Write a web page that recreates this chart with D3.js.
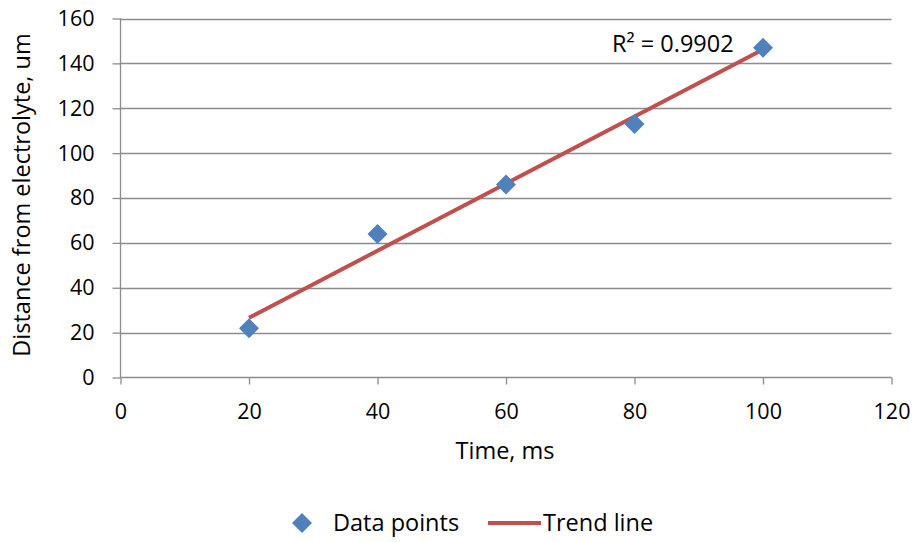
<!DOCTYPE html>
<html><head><meta charset="utf-8">
<script src="https://cdn.jsdelivr.net/npm/d3@7"></script>
<style>body{margin:0;background:#fff}svg{display:block}text{font-family:"Open Sans",sans-serif;fill:#000}</style>
</head><body><svg id="c" width="917" height="542"></svg>
<script>
const timeMs = [20, 40, 60, 80, 100];
const distanceUm = [22, 64, 86, 113, 147];
const xTicks = [0, 20, 40, 60, 80, 100, 120];
const yTicks = [0, 20, 40, 60, 80, 100, 120, 140, 160];
const rSquaredLabel = "R² = 0.9902";

const svg = d3.select("#c");
const x = d3.scaleLinear().domain([0, 120]).range([120.5, 891.5]);
const y = d3.scaleLinear().domain([0, 160]).range([377.5, 18.5]);
const fs = 21.5;   // tick labels
const ft = 23.5;   // titles, legend, label

// gridlines
svg.append("g").selectAll("line").data(yTicks.filter(d => d > 0)).join("line")
  .attr("x1", x(0)).attr("x2", x(120)).attr("y1", d => Math.round(y(d)) + 0.5).attr("y2", d => Math.round(y(d)) + 0.5)
  .attr("stroke", "#8c8c8c").attr("stroke-width", 1.3);

// y axis
const ya = svg.append("g").attr("transform", `translate(${x(0)},0)`)
  .call(d3.axisLeft(y).tickValues(yTicks).tickSize(8).tickPadding(18));
ya.select(".domain").attr("stroke", "#8c8c8c").attr("stroke-width", 1.3).attr("d", `M0,${y(0)}V${y(160)}`);
ya.selectAll(".tick line").attr("stroke", "#8c8c8c").attr("stroke-width", 1.3);
ya.selectAll("text").style("font-size", fs + "px").attr("font-family", "Open Sans");

// x axis
const xa = svg.append("g").attr("transform", `translate(0,${y(0)})`)
  .call(d3.axisBottom(x).tickValues(xTicks).tickSize(7).tickPadding(19));
xa.select(".domain").attr("stroke", "#8c8c8c").attr("stroke-width", 1.3).attr("d", `M${x(0)},0H${x(120)}`);
xa.selectAll(".tick line").attr("stroke", "#8c8c8c").attr("stroke-width", 1.3);
xa.selectAll("text").style("font-size", fs + "px").attr("font-family", "Open Sans");
svg.selectAll(".tick text").attr("fill", "#000");

// trend line (least squares from data)
const mx = d3.mean(timeMs), my = d3.mean(distanceUm);
let sxy = 0, sxx = 0;
timeMs.forEach((t, i) => { sxy += (t - mx) * (distanceUm[i] - my); sxx += (t - mx) ** 2; });
const slope = sxy / sxx, icpt = my - slope * mx;
const tx = [d3.min(timeMs), d3.max(timeMs)];
svg.append("path").datum(tx)
  .attr("d", d3.line().x(d => x(d)).y(d => y(icpt + slope * d)))
  .attr("stroke", "#C0504D").attr("stroke-width", 4).attr("fill", "none");

// points
svg.append("g").selectAll("path").data(timeMs).join("path")
  .attr("d", "M0,-10L10,0L0,10L-10,0Z")
  .attr("transform", (d, i) => `translate(${x(d)},${y(distanceUm[i])})`)
  .attr("fill", "#4F81BD");

// R² label
svg.append("text").attr("x", 612).attr("y", 52).style("font-size", ft + "px").text(rSquaredLabel);

// axis titles
svg.append("text").attr("x", 505).attr("y", 459).attr("text-anchor", "middle").style("font-size", ft + "px").text("Time, ms");
svg.append("text").attr("transform", `translate(30,195) rotate(-90)`).attr("text-anchor", "middle").style("font-size", ft + "px").text("Distance from electrolyte, um");

// legend
const lg = svg.append("g");
lg.append("path").attr("d", "M0,-10L10,0L0,10L-10,0Z").attr("transform", "translate(302,523)").attr("fill", "#4F81BD");
lg.append("text").attr("x", 333).attr("y", 531).style("font-size", ft + "px").text("Data points");
lg.append("line").attr("x1", 488).attr("x2", 541).attr("y1", 523).attr("y2", 523).attr("stroke", "#C0504D").attr("stroke-width", 4);
lg.append("text").attr("x", 543).attr("y", 531).style("font-size", ft + "px").text("Trend line");
</script></body></html>
